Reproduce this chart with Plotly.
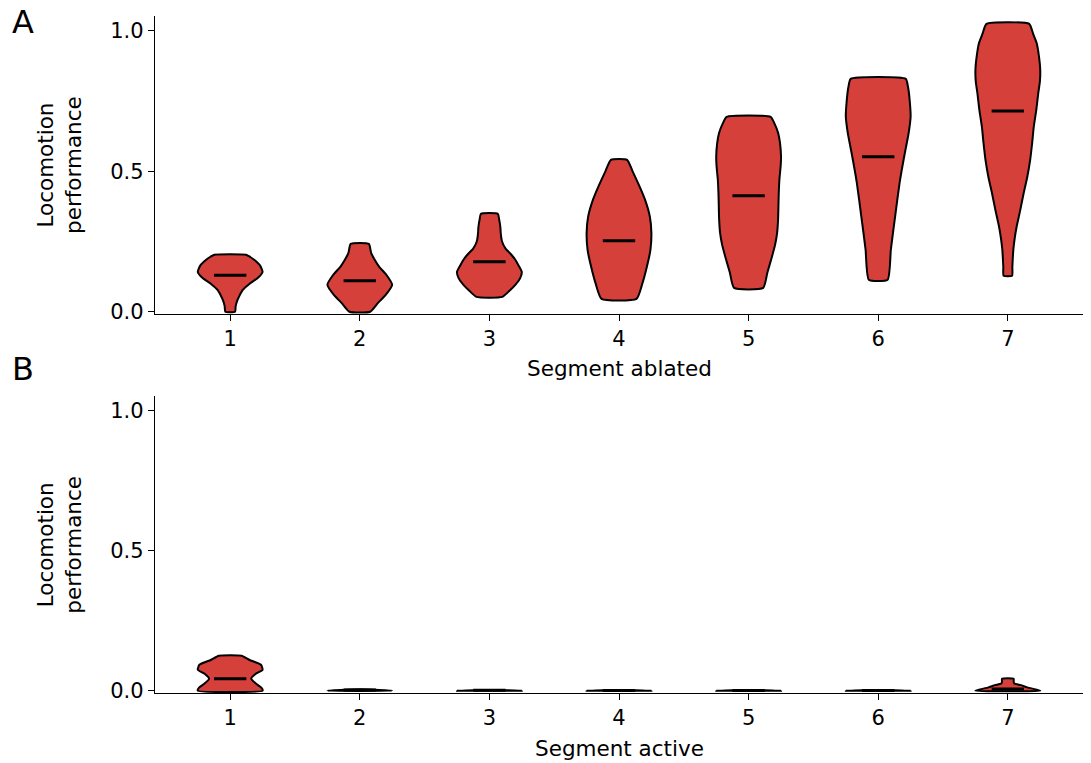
import plotly.graph_objects as go

# ---------------- data ----------------
segments = [1, 2, 3, 4, 5, 6, 7]
tick_vals_y = [0.0, 0.5, 1.0]
tick_text_y = ["0.0", "0.5", "1.0"]

# Panel A: violin profiles (performance level, relative half-width 0..1)
a1_y = [0.000, 0.020, 0.043, 0.078, 0.100, 0.120, 0.142, 0.165, 0.185, 0.195, 0.203]
a1_w = [0.15, 0.17, 0.23, 0.39, 0.60, 0.85, 1.00, 0.92, 0.74, 0.62, 0.49]
a2_y = [0.000, 0.030, 0.060, 0.096, 0.130, 0.160, 0.185, 0.210, 0.242]
a2_w = [0.32, 0.55, 0.80, 1.00, 0.83, 0.60, 0.46, 0.35, 0.28]
a3_y = [0.053, 0.075, 0.096, 0.120, 0.142, 0.165, 0.185, 0.203, 0.225, 0.250, 0.280, 0.300, 0.330, 0.349]
a3_w = [0.40, 0.62, 0.80, 0.95, 1.00, 0.90, 0.80, 0.68, 0.50, 0.39, 0.35, 0.34, 0.30, 0.26]
a4_y = [0.046, 0.100, 0.160, 0.220, 0.280, 0.340, 0.400, 0.450, 0.500, 0.541]
a4_w = [0.54, 0.72, 0.86, 0.97, 1.00, 0.95, 0.80, 0.62, 0.42, 0.25]
a5_y = [0.085, 0.140, 0.196, 0.240, 0.281, 0.330, 0.374, 0.420, 0.470, 0.520, 0.552, 0.600, 0.637, 0.670, 0.694]
a5_w = [0.45, 0.58, 0.72, 0.82, 0.88, 0.91, 0.92, 0.93, 0.95, 0.99, 1.00, 0.97, 0.91, 0.80, 0.68]
a6_y = [0.114, 0.221, 0.338, 0.459, 0.552, 0.600, 0.637, 0.694, 0.754, 0.800, 0.829]
a6_w = [0.29, 0.39, 0.52, 0.66, 0.80, 0.88, 0.94, 1.00, 0.97, 0.92, 0.85]
a7_y = [0.128, 0.160, 0.221, 0.260, 0.302, 0.360, 0.423, 0.480, 0.541, 0.600, 0.658, 0.720, 0.779, 0.820, 0.861, 0.910, 0.957, 0.990, 1.025]
a7_w = [0.13, 0.14, 0.17, 0.21, 0.27, 0.38, 0.49, 0.60, 0.69, 0.75, 0.80, 0.88, 0.94, 0.99, 1.00, 0.96, 0.89, 0.78, 0.66]
medians_a = [0.130, 0.110, 0.178, 0.253, 0.413, 0.552, 0.715]

# Panel B
b1_y = [0.000, 0.010, 0.025, 0.043, 0.060, 0.075, 0.093, 0.110, 0.125]
b1_w = [1.00, 0.97, 0.80, 0.65, 0.78, 1.00, 0.95, 0.60, 0.35]
b2_y = [0.000, 0.003, 0.005]
b2_w = [1.00, 0.60, 0.05]
b3_y = [0.000, 0.002, 0.003]
b3_w = [1.00, 0.50, 0.05]
b4_y = [0.000, 0.002, 0.003]
b4_w = [1.00, 0.50, 0.05]
b5_y = [0.000, 0.002, 0.003]
b5_w = [1.00, 0.50, 0.05]
b6_y = [0.000, 0.002, 0.003]
b6_w = [1.00, 0.50, 0.05]
b7_y = [0.000, 0.005, 0.012, 0.020, 0.026, 0.032, 0.043]
b7_w = [1.00, 0.85, 0.60, 0.40, 0.20, 0.18, 0.18]
medians_b = [0.043, 0.003, 0.002, 0.001, 0.001, 0.001, 0.006]

profiles_a = [(a1_y, a1_w), (a2_y, a2_w), (a3_y, a3_w), (a4_y, a4_w),
              (a5_y, a5_w), (a6_y, a6_w), (a7_y, a7_w)]
profiles_b = [(b1_y, b1_w), (b2_y, b2_w), (b3_y, b3_w), (b4_y, b4_w),
              (b5_y, b5_w), (b6_y, b6_w), (b7_y, b7_w)]

# ---------------- style ----------------
FILL = "#d6403a"
HALF = 0.25      # violin half width (data units)
MED_HALF = 0.125
FONT = "DejaVu Sans"

fig = go.Figure()


def add_panel(profiles, medians, xa, ya):
    for pos, (ys, ws) in zip(segments, profiles):
        xs = [pos + HALF * w for w in ws] + [pos - HALF * w for w in reversed(ws)]
        yy = list(ys) + list(reversed(ys))
        xs.append(xs[0])
        yy.append(yy[0])
        fig.add_trace(go.Scatter(
            x=xs, y=yy, mode="lines", fill="toself", fillcolor=FILL,
            line=dict(color="black", width=2.0, shape="spline", smoothing=0.5),
            xaxis=xa, yaxis=ya, showlegend=False, hoverinfo="skip"))
    for pos, m in zip(segments, medians):
        fig.add_trace(go.Scatter(
            x=[pos - MED_HALF, pos + MED_HALF], y=[m, m], mode="lines",
            line=dict(color="black", width=3),
            xaxis=xa, yaxis=ya, showlegend=False, hoverinfo="skip"))


add_panel(profiles_a, medians_a, "x", "y")
add_panel(profiles_b, medians_b, "x2", "y2")

axis_common = dict(showline=True, linecolor="black", linewidth=1.3,
                   ticks="outside", ticklen=6, tickwidth=1.3, tickcolor="black",
                   showgrid=False, zeroline=False,
                   tickfont=dict(family=FONT, size=21, color="black"))

# the page adds an 8 px body margin, so the figure is 8 px smaller
fig.update_layout(
    width=1083, height=755,
    margin=dict(l=147, r=8, t=8, b=70),
    paper_bgcolor="white", plot_bgcolor="white",
    xaxis=dict(domain=[0, 1], anchor="y", range=[0.42, 7.58],
               tickvals=segments, **axis_common),
    yaxis=dict(domain=[0.5598, 1], anchor="x", range=[-0.008, 1.053],
               tickvals=tick_vals_y, ticktext=tick_text_y, **axis_common),
    xaxis2=dict(domain=[0, 1], anchor="y2", range=[0.42, 7.58],
                tickvals=segments, **axis_common),
    yaxis2=dict(domain=[0, 0.4387], anchor="x2", range=[-0.008, 1.053],
                tickvals=tick_vals_y, ticktext=tick_text_y, **axis_common),
)

tfont = dict(family=FONT, size=21.5, color="black")
annots = [
    dict(text="Segment ablated", x=0.5, y=0.4786, xanchor="center", yanchor="middle"),
    dict(text="Segment active", x=0.5, y=-0.0827, xanchor="center", yanchor="middle"),
    dict(text="Locomotion<br>performance", x=-0.1024, y=0.78, textangle=-90,
         xanchor="center", yanchor="middle"),
    dict(text="Locomotion<br>performance", x=-0.1024, y=0.219, textangle=-90,
         xanchor="center", yanchor="middle"),
]
for a in annots:
    fig.add_annotation(xref="paper", yref="paper", showarrow=False, font=tfont, **a)

for letter, yv in [("A", 0.991), ("B", 0.4786)]:
    fig.add_annotation(text=letter, xref="paper", yref="paper", x=-0.1422, y=yv,
                       xanchor="center", yanchor="middle", showarrow=False,
                       font=dict(family=FONT, size=32, color="black"))

fig.write_html("out.html")
